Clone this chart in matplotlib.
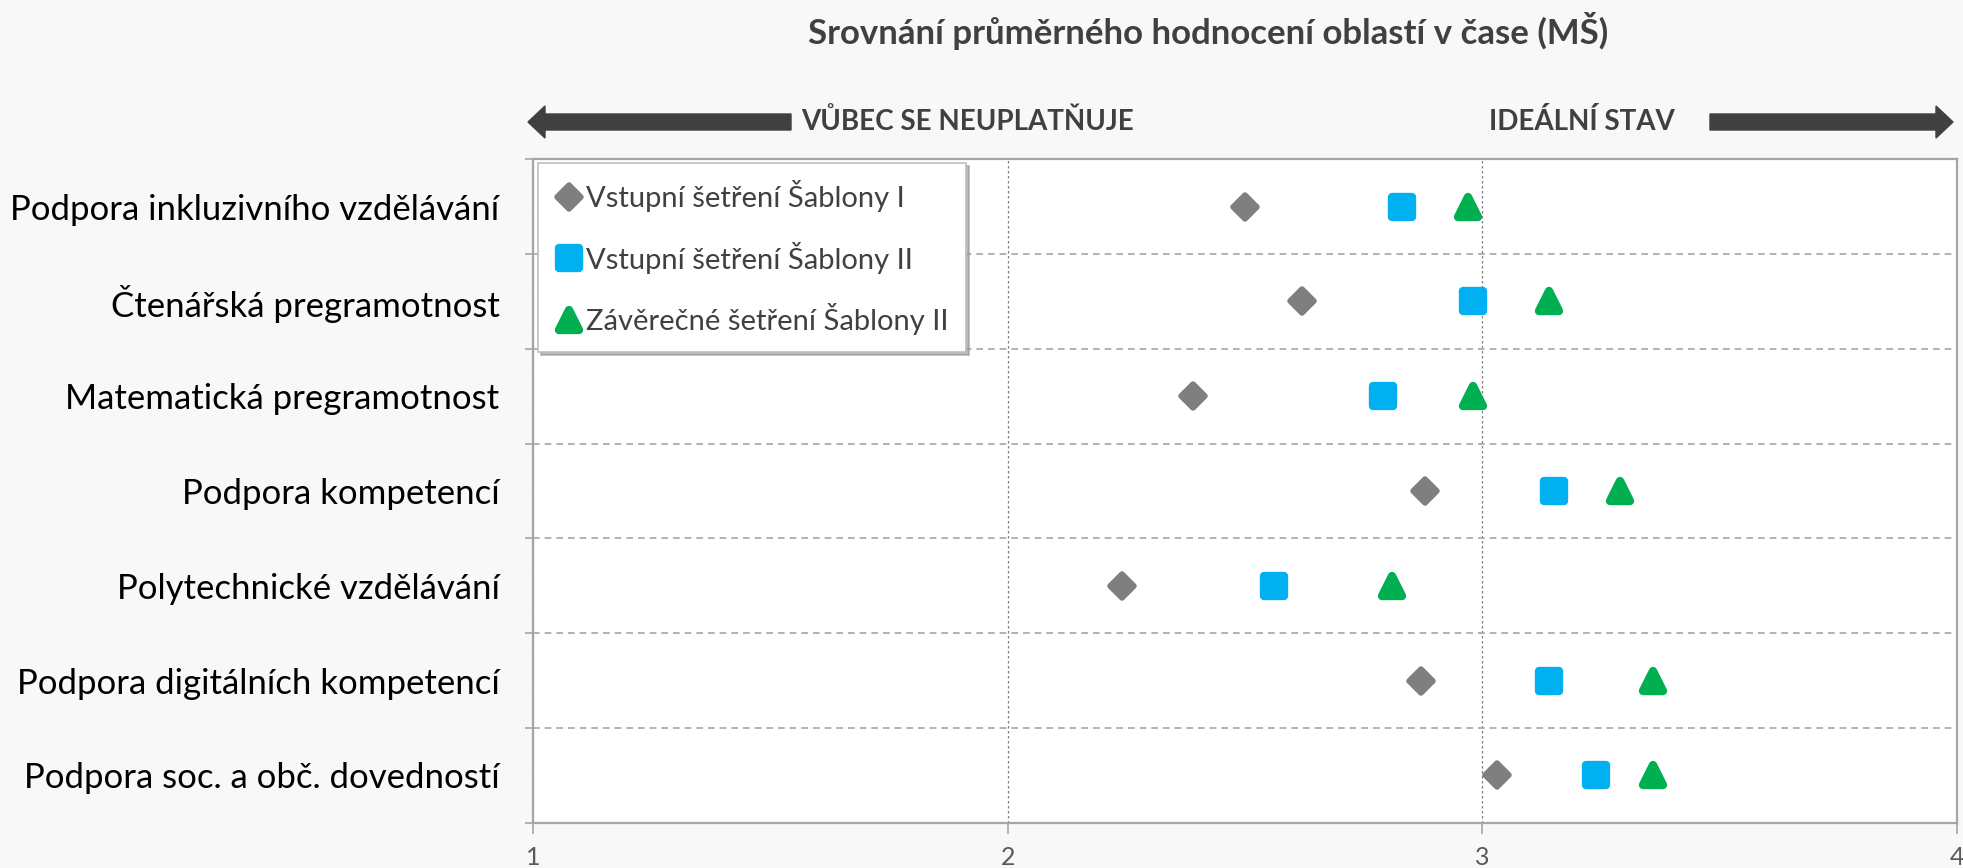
import matplotlib
matplotlib.use("Agg")
import matplotlib.pyplot as plt
from matplotlib.markers import MarkerStyle
from matplotlib.patches import FancyArrow

# data
categories = [
    "Podpora inkluzivního vzdělávání",
    "Čtenářská pregramotnost",
    "Matematická pregramotnost",
    "Podpora kompetencí",
    "Polytechnické vzdělávání",
    "Podpora digitálních kompetencí",
    "Podpora soc. a obč. dovedností",
]
vstupni_1 = [2.50, 2.62, 2.39, 2.88, 2.24, 2.87, 3.03]
vstupni_2 = [2.83, 2.98, 2.79, 3.15, 2.56, 3.14, 3.24]
zaverecne_2 = [2.97, 3.14, 2.98, 3.29, 2.81, 3.36, 3.36]
series_names = ["Vstupní šetření Šablony I",
                "Vstupní šetření Šablony II",
                "Závěrečné šetření Šablony II"]
x_ticks = [1, 2, 3, 4]

title = "Srovnání průměrného hodnocení oblastí v čase (MŠ)"
left_note = "VŮBEC SE NEUPLATŇUJE"
right_note = "IDEÁLNÍ STAV"

plt.rcParams["font.family"] = ["Lato", "DejaVu Sans"]
bg = "#f8f8f8"
dark = "#404040"

fig = plt.figure(figsize=(19.63, 8.68), dpi=100, facecolor=bg)
ax = fig.add_axes([0.2715, 0.052, 0.7255, 0.7645])
ax.set_facecolor("white")

y = list(range(len(categories)))
styles = [
    (vstupni_1, "D", 12, 4.0, "#7f7f7f"),
    (vstupni_2, "s", 14, 6.0, "#00b0f0"),
    (zaverecne_2, "^", 15, 6.0, "#00b050"),
]
for (vals, m, ms, mew, col), name in zip(styles, series_names):
    ax.plot(vals, y, linestyle="none",
            marker=MarkerStyle(m, joinstyle="round"),
            ms=ms, mew=mew, mfc=col, mec=col, label=name, zorder=3)

ax.set_xlim(1, 4)
ax.set_ylim(len(categories) - 0.5, -0.5)
ax.set_xticks(x_ticks)
ax.set_xticklabels([str(t) for t in x_ticks], fontsize=18, color="#595959")
ax.set_yticks(y)
ax.set_yticklabels(categories, fontsize=25, color="black")
ax.set_yticks([i + 0.5 for i in range(-1, len(categories))], minor=True)
ax.tick_params(axis="y", which="major", length=0, pad=24)
ax.tick_params(axis="y", which="minor", length=6, color="#a6a6a6", width=1.2)
ax.tick_params(axis="x", length=8, color="#a6a6a6", width=1.2, pad=9)

ax.grid(axis="y", which="minor", linestyle=(0, (4, 3)), color="#a6a6a6", lw=1.2)
ax.grid(axis="x", which="major", linestyle=(0, (2, 2)), color="#7f7f7f", lw=0.9)
ax.set_axisbelow(True)
for s in ax.spines.values():
    s.set_color("#a6a6a6")
    s.set_linewidth(1.6)

leg = ax.legend(loc="upper left", bbox_to_anchor=(538 / 1963, 1 - 163 / 868),
                bbox_transform=fig.transFigure, borderaxespad=0,
                fontsize=21, labelcolor=dark, frameon=True, fancybox=False,
                handlelength=0.9, handletextpad=0.15, labelspacing=1.0,
                borderpad=0.6, shadow={"color": "#9a9a9a", "alpha": 0.7})
leg.get_frame().set_edgecolor("#bfbfbf")
leg.get_frame().set_linewidth(1.2)

fig.text(0.6154, 0.964, title, ha="center", va="center",
         fontsize=25, fontweight="bold", color=dark)

# direction arrows above the plot (inch coordinates)
arrow_kw = dict(width=0.16, head_width=0.32, head_length=0.17,
                length_includes_head=True, color=dark,
                transform=fig.dpi_scale_trans)
fig.patches.append(FancyArrow(7.91, 7.46, -2.63, 0, **arrow_kw))
fig.patches.append(FancyArrow(17.10, 7.46, 2.43, 0, **arrow_kw))
fig.text(8.01 / 19.63, 7.46 / 8.68, left_note, ha="left", va="center",
         fontsize=20, fontweight="bold", color=dark)
fig.text(15.82 / 19.63, 7.46 / 8.68, right_note, ha="center", va="center",
         fontsize=20, fontweight="bold", color=dark)

fig.savefig("out.png", dpi=100, facecolor=bg)
